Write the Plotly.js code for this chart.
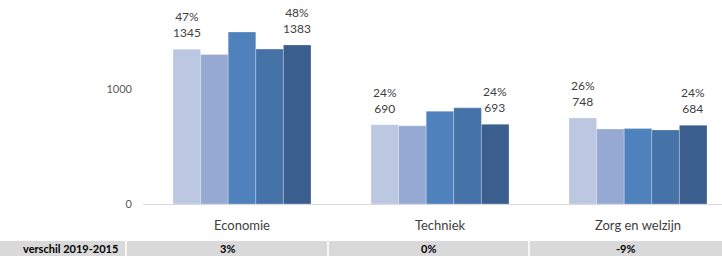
<!DOCTYPE html>
<html>
<head>
<meta charset="utf-8">
<script src="https://cdn.plot.ly/plotly-3.0.1.min.js"></script>
<style>html,body{margin:0;padding:0;background:#fff;}#chart{width:722px;height:256px;}</style>
</head>
<body>
<div id="chart"></div>
<script>
const categories = ["Economie", "Techniek", "Zorg en welzijn"];
const seriesNames = ["2015", "2016", "2017", "2018", "2019"];
const v2015 = [1345, 690, 748];
const v2016 = [1300, 680, 652];
const v2017 = [1495, 806, 656];
const v2018 = [1347, 836, 644];
const v2019 = [1383, 693, 684];
const share2015 = ["47%", "24%", "26%"];
const share2019 = ["48%", "24%", "24%"];
const rowLabel = "verschil 2019-2015";
const diffLabels = ["3%", "0%", "-9%"];
const colors = ["#bcc8e1", "#95a9d2", "#4f81bd", "#4572a7", "#3a5f8f"];

const seriesValues = [v2015, v2016, v2017, v2018, v2019];
const font = "Lato, 'Open Sans', sans-serif";

const traces = seriesValues.map((vals, i) => ({
  type: "bar",
  name: seriesNames[i],
  x: categories,
  y: vals,
  marker: {color: colors[i], line: {color: "rgba(255,255,255,0.5)", width: 0.5}},
  hoverinfo: "x+y+name"
}));

// layout geometry
const L = 143, W = 579, T = 3, H = 201;
const catPx = 198, bargap = 0.303;
const barPx = catPx * (1 - bargap) / seriesValues.length;
const px = x => (x - L) / W;
const py = y => (T + H - y) / H;

const annotations = [];
// data labels above first and last series
[[0, share2015], [seriesValues.length - 1, share2019]].forEach(([si, shares]) => {
  seriesValues[si].forEach((v, j) => {
    annotations.push({
      x: categories[j], y: v, xref: "x", yref: "y",
      xshift: (si - (seriesValues.length - 1) / 2) * barPx,
      yshift: 7, yanchor: "bottom", xanchor: "center", showarrow: false,
      text: shares[j] + "<br>" + v,
      font: {family: font, size: 12, color: "#404040"}
    });
  });
});

const cellEdges = [0, 126, 328, 529, 722];
const shapes = [{
  type: "rect", xref: "paper", yref: "paper",
  x0: px(0), x1: px(722), y0: py(241), y1: py(256),
  fillcolor: "#d9d9d9", line: {width: 0}, layer: "below"
}];
for (let k = 1; k < cellEdges.length - 1; k++) {
  shapes.push({
    type: "line", xref: "paper", yref: "paper",
    x0: px(cellEdges[k]), x1: px(cellEdges[k]), y0: py(241), y1: py(256),
    line: {color: "#ffffff", width: 1.5}
  });
}
annotations.push({
  xref: "paper", yref: "paper", x: px(120), y: py(248.5),
  xanchor: "right", yanchor: "middle", showarrow: false,
  text: "<b>" + rowLabel + "</b>", font: {family: font, size: 11, color: "#000"}
});
diffLabels.forEach((d, k) => {
  annotations.push({
    xref: "paper", yref: "paper",
    x: px((cellEdges[k + 1] + cellEdges[k + 2]) / 2), y: py(248.5),
    xanchor: "center", yanchor: "middle", showarrow: false,
    text: "<b>" + d + "</b>", font: {family: font, size: 11, color: "#000"}
  });
});

const layout = {
  width: 722, height: 256,
  margin: {l: L, r: 0, t: T, b: 256 - T - H, pad: 0},
  paper_bgcolor: "#fff", plot_bgcolor: "#fff",
  barmode: "group", bargap: bargap, bargroupgap: 0,
  showlegend: false,
  font: {family: font, color: "#404040"},
  xaxis: {
    type: "category",
    range: [-0.5, -0.5 + W / catPx],
    showline: true, linecolor: "#d9d9d9", linewidth: 1,
    ticks: "", showgrid: false, zeroline: false,
    tickfont: {family: font, size: 13, color: "#404040"},
    ticklabelstandoff: 9
  },
  yaxis: {
    range: [0, H / 0.115],
    tickvals: [0, 1000], ticktext: ["0", "1000"],
    showgrid: false, zeroline: false, showline: false, ticks: "",
    tickfont: {family: font, size: 11, color: "#595959"},
    ticklabelstandoff: 10
  },
  shapes: shapes,
  annotations: annotations
};

Plotly.newPlot("chart", traces, layout, {displayModeBar: false, staticPlot: true});
</script>
</body>
</html>
